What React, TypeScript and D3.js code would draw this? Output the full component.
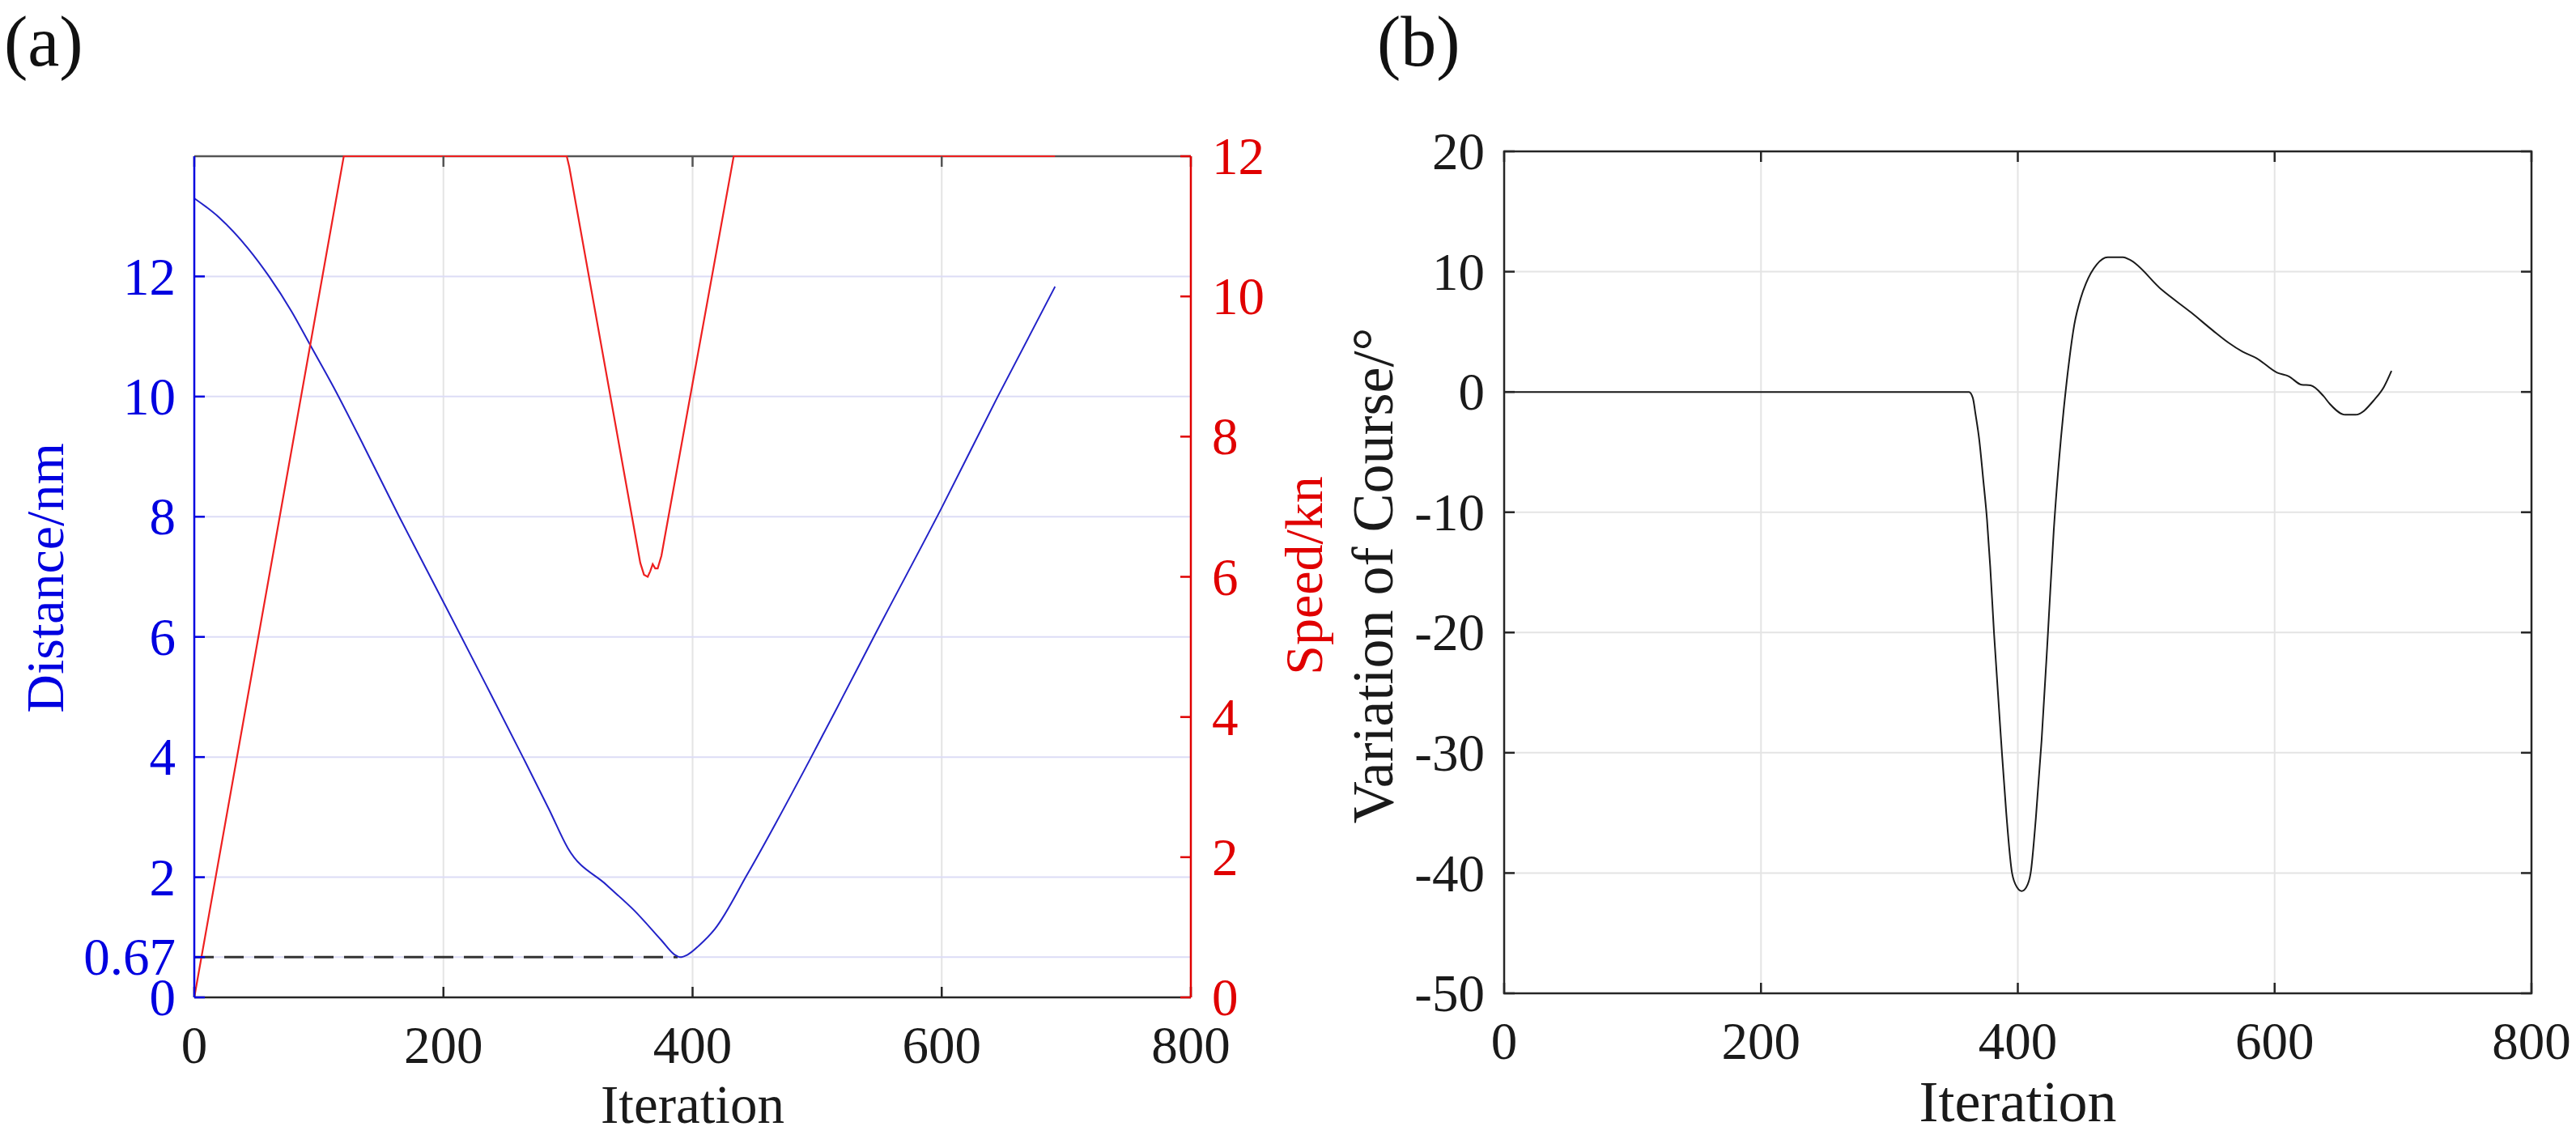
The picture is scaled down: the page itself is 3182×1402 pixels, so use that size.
import * as d3 from 'd3';

const WIDTH = 3182;
const HEIGHT = 1402;
const FONT = '"Liberation Serif", "Times New Roman", serif';

// panel (a) and (b) data
const iterTicks = [0, 200, 400, 600, 800];
const distTicks = [0, 0.67, 2, 4, 6, 8, 10, 12];
const speedTicks = [0, 2, 4, 6, 8, 10, 12];
const courseTicks = [-50, -40, -30, -20, -10, 0, 10, 20];

const distanceSeries: [number, number][] = [
  [0, 13.3], [20, 12.98], [43, 12.47], [60, 12.0], [78, 11.42], [93, 10.86],
  [112, 10.15], [136, 9.18], [164, 8.02], [200, 6.58], [234, 5.21], [264, 3.99],
  [285, 3.12], [300, 2.48], [331, 1.87], [353, 1.45], [375, 0.95], [385, 0.72],
  [390, 0.67], [396, 0.71], [405, 0.86], [418, 1.14], [444, 2.05], [494, 3.95],
  [520, 4.98], [548, 6.1], [600, 8.15], [645, 10.0], [691, 11.83],
];

const speedSeries: [number, number][] = [
  [0, 0], [120, 12], [299, 12], [301, 11.85], [358, 6.2], [361, 6.03], [364, 6.0],
  [366, 6.08], [368, 6.18], [370, 6.12], [372, 6.12], [375, 6.3], [377, 6.5],
  [433, 12], [691, 12],
];

const courseSeries: [number, number][] = [
  [0, 0], [362, 0], [365, -0.5], [367, -1.8], [370, -4.0], [373, -7.2], [376, -10.6],
  [378.5, -14.5], [381.5, -20.1], [387, -29], [391, -35], [395.5, -40], [399.5, -41.2],
  [403, -41.5], [406.5, -41.2], [410, -40], [414, -35.5], [418.5, -29], [423.5, -20],
  [428, -11.5], [432, -5.8], [436, -1.2], [440, 2.6], [444, 5.6], [449, 7.8],
  [453, 9.0], [461.5, 10.6], [470, 11.2], [482, 11.2], [487, 11.0], [512, 8.5],
  [535, 6.6], [552, 5.1], [564, 4.1], [575, 3.35], [586, 2.8], [602, 1.6],
  [611, 1.3], [621, 0.6], [628, 0.55], [638, -0.34], [643, -1.0], [655, -1.9],
  [663, -1.9], [678, -0.6], [685, 0.4], [691, 1.75],
];

const safeDistance = 0.67;
const safeDistanceEnd = 388;

const BLUE_TEXT = '#0000e0';
const BLUE_LINE = '#2222c8';
const RED_TEXT = '#e00000';
const RED_LINE = '#ee2020';
const AXIS = '#262626';
const TICK = 13;

const App = () => {
  // panel (a)
  const ax = { left: 240, right: 1471, top: 193, bottom: 1232 };
  const xA = d3.scaleLinear().domain([0, 800]).range([ax.left, ax.right]);
  const yDist = d3.scaleLinear().domain([0, 14]).range([ax.bottom, ax.top]);
  const ySpeed = d3.scaleLinear().domain([0, 12]).range([ax.bottom, ax.top]);

  // panel (b)
  const bx = { left: 1858, right: 3127, top: 187, bottom: 1227 };
  const xB = d3.scaleLinear().domain([0, 800]).range([bx.left, bx.right]);
  const yB = d3.scaleLinear().domain([-50, 20]).range([bx.bottom, bx.top]);

  const distLine = d3
    .line<[number, number]>()
    .x((d) => xA(d[0]))
    .y((d) => yDist(d[1]))
    .curve(d3.curveMonotoneX);
  const speedLine = d3
    .line<[number, number]>()
    .x((d) => xA(d[0]))
    .y((d) => ySpeed(d[1]));
  const courseLine = d3
    .line<[number, number]>()
    .x((d) => xB(d[0]))
    .y((d) => yB(d[1]))
    .curve(d3.curveMonotoneX);

  return (
    <svg
      width={WIDTH}
      height={HEIGHT}
      style={{ position: 'absolute', left: 0, top: 0, background: 'white' }}
      fontFamily={FONT}
    >
      <rect width={WIDTH} height={HEIGHT} fill='white' />

      {/* ---------- panel (a) ---------- */}
      <text x={5} y={81} fontSize={88} fill='#111'>(a)</text>

      {iterTicks.map((t) => (
        <line key={'agx' + t} x1={xA(t)} x2={xA(t)} y1={ax.top} y2={ax.bottom} stroke='#e4e4e4' strokeWidth={2} />
      ))}
      {distTicks.map((t) => (
        <line key={'agy' + t} x1={ax.left} x2={ax.right} y1={yDist(t)} y2={yDist(t)} stroke='#dcdcf6' strokeWidth={2} />
      ))}

      <line
        x1={xA(0)}
        x2={xA(safeDistanceEnd)}
        y1={yDist(safeDistance)}
        y2={yDist(safeDistance)}
        stroke='#333'
        strokeWidth={3}
        strokeDasharray='24 13'
      />
      <path d={distLine(distanceSeries) ?? ''} fill='none' stroke={BLUE_LINE} strokeWidth={2} />

      {/* top & bottom box lines */}
      <line x1={ax.left} x2={ax.right} y1={ax.top} y2={ax.top} stroke='#555' strokeWidth={2.5} />
      <line x1={ax.left} x2={ax.right} y1={ax.bottom} y2={ax.bottom} stroke={AXIS} strokeWidth={2.5} />
      <path d={speedLine(speedSeries) ?? ''} fill='none' stroke={RED_LINE} strokeWidth={2.2} />

      {iterTicks.map((t) => (
        <g key={'atx' + t}>
          <line x1={xA(t)} x2={xA(t)} y1={ax.bottom} y2={ax.bottom - TICK} stroke={AXIS} strokeWidth={2.5} />
          <line x1={xA(t)} x2={xA(t)} y1={ax.top} y2={ax.top + TICK} stroke='#555' strokeWidth={2.5} />
          <text x={xA(t)} y={1313} fontSize={65} textAnchor='middle' fill='#1a1a1a'>{t}</text>
        </g>
      ))}

      <line x1={ax.left} x2={ax.left} y1={ax.top} y2={ax.bottom} stroke={BLUE_TEXT} strokeWidth={2.5} />
      {distTicks.map((t) => (
        <g key={'aty' + t}>
          <line x1={ax.left} x2={ax.left + TICK} y1={yDist(t)} y2={yDist(t)} stroke={BLUE_TEXT} strokeWidth={2.5} />
          <text x={217} y={yDist(t)} dy='0.34em' fontSize={65} textAnchor='end' fill={BLUE_TEXT}>{t}</text>
        </g>
      ))}

      <line x1={ax.right} x2={ax.right} y1={ax.top} y2={ax.bottom} stroke={RED_TEXT} strokeWidth={2.5} />
      {speedTicks.map((t) => (
        <g key={'aty2' + t}>
          <line x1={ax.right} x2={ax.right - TICK} y1={ySpeed(t)} y2={ySpeed(t)} stroke={RED_TEXT} strokeWidth={2.5} />
          <text x={1497} y={ySpeed(t)} dy='0.34em' fontSize={65} textAnchor='start' fill={RED_TEXT}>{t}</text>
        </g>
      ))}

      <text x={(ax.left + ax.right) / 2} y={1387} fontSize={67} textAnchor='middle' fill='#1a1a1a'>Iteration</text>
      <text transform='translate(78,714) rotate(-90)' fontSize={66} textAnchor='middle' fill={BLUE_TEXT}>Distance/nm</text>
      <text transform='translate(1633,711) rotate(-90)' fontSize={66} textAnchor='middle' fill={RED_TEXT}>Speed/kn</text>

      {/* ---------- panel (b) ---------- */}
      <text x={1701} y={81} fontSize={88} fill='#111'>(b)</text>

      {iterTicks.map((t) => (
        <line key={'bgx' + t} x1={xB(t)} x2={xB(t)} y1={bx.top} y2={bx.bottom} stroke='#e4e4e4' strokeWidth={2} />
      ))}
      {courseTicks.map((t) => (
        <line key={'bgy' + t} x1={bx.left} x2={bx.right} y1={yB(t)} y2={yB(t)} stroke='#e4e4e4' strokeWidth={2} />
      ))}

      <path d={courseLine(courseSeries) ?? ''} fill='none' stroke='#1a1a1a' strokeWidth={2} />

      <rect
        x={bx.left}
        y={bx.top}
        width={bx.right - bx.left}
        height={bx.bottom - bx.top}
        fill='none'
        stroke={AXIS}
        strokeWidth={2.5}
      />
      {iterTicks.map((t) => (
        <g key={'btx' + t}>
          <line x1={xB(t)} x2={xB(t)} y1={bx.bottom} y2={bx.bottom - TICK} stroke={AXIS} strokeWidth={2.5} />
          <line x1={xB(t)} x2={xB(t)} y1={bx.top} y2={bx.top + TICK} stroke={AXIS} strokeWidth={2.5} />
          <text x={xB(t)} y={1308} fontSize={65} textAnchor='middle' fill='#1a1a1a'>{t}</text>
        </g>
      ))}
      {courseTicks.map((t) => (
        <g key={'bty' + t}>
          <line x1={bx.left} x2={bx.left + TICK} y1={yB(t)} y2={yB(t)} stroke={AXIS} strokeWidth={2.5} />
          <line x1={bx.right} x2={bx.right - TICK} y1={yB(t)} y2={yB(t)} stroke={AXIS} strokeWidth={2.5} />
          <text x={1834} y={yB(t)} dy='0.34em' fontSize={65} textAnchor='end' fill='#1a1a1a'>{t}</text>
        </g>
      ))}

      <text x={(bx.left + bx.right) / 2} y={1385} fontSize={72} textAnchor='middle' fill='#1a1a1a'>Iteration</text>
      <text transform='translate(1720,711) rotate(-90)' fontSize={72} textAnchor='middle' fill='#1a1a1a'>Variation of Course/°</text>
    </svg>
  );
};

export default App;
